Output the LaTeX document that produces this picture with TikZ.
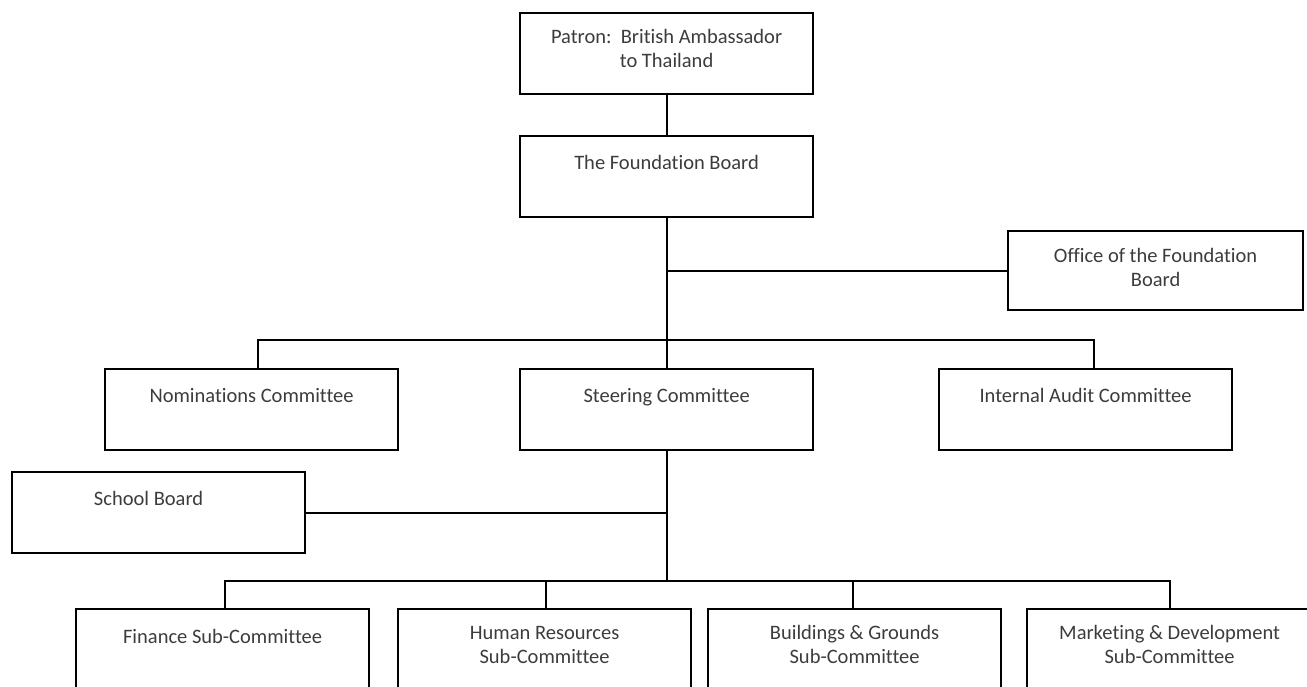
\documentclass[tikz,border=0pt]{standalone}
\usepackage{fontspec}
\setmainfont{Carlito}[Ligatures={NoCommon,NoContextual},RawFeature={-liga;-clig;-dlig}]
\definecolor{textgray}{RGB}{60,60,60}
\begin{document}
\begin{tikzpicture}[x=1pt,y=-1pt,
  box/.style={draw=black,line width=2.2pt,minimum width=293pt,minimum height=81pt,inner sep=0pt,anchor=north west},
  lbl/.style={anchor=north,inner sep=0pt,align=center,text=textgray,font=\fontsize{20.5}{24}\selectfont},
  conn/.style={draw=black,line width=2pt}]
\useasboundingbox (0,0) rectangle (1307,686);
\clip (0,0) rectangle (1307,686);
% boxes
\node[box] (patron) at (519,12) {};
\node[box] (found) at (519,135) {};
\node[box,minimum width=295pt,minimum height=79pt] (office) at (1007,230) {};
\node[box] (nom) at (104,368) {};
\node[box] (steer) at (519,368) {};
\node[box] (audit) at (938,368) {};
\node[box] (school) at (11,471) {};
\node[box,minimum height=90pt] (fin) at (75,608) {};
\node[box,minimum height=90pt] (hr) at (397,608) {};
\node[box,minimum height=90pt] (bg) at (707,608) {};
\node[box,minimum height=90pt] (mkt) at (1026,608) {};
% labels
\node[lbl] (tpatron) at ([yshift=-14]patron.north) {\strut Patron:\ \ British Ambassador\\\strut to Thailand};
\node[lbl] (tfound) at ([yshift=-17]found.north) {\strut The Foundation Board};
\node[lbl] (toffice) at ([yshift=-15]office.north) {\strut Office of the Foundation\\\strut Board};
\node[lbl] (tnom) at ([yshift=-17]nom.north) {\strut Nominations Committee};
\node[lbl] (tsteer) at ([yshift=-17]steer.north) {\strut Steering Committee};
\node[lbl] (taudit) at ([yshift=-17]audit.north) {\strut Internal Audit Committee};
\node[lbl] (tschool) at ([xshift=-10,yshift=-17]school.north) {\strut School Board};
\node[lbl] (tfin) at ([yshift=-18]fin.north) {\strut Finance Sub-Committee};
\node[lbl] (thr) at ([yshift=-14]hr.north) {\strut Human Resources\\\strut Sub-Committee};
\node[lbl] (tbg) at ([yshift=-14]bg.north) {\strut Buildings \& Grounds\\\strut Sub-Committee};
\node[lbl] (tmkt) at ([xshift=-4,yshift=-14]mkt.north) {\strut Marketing \& Development\\\strut Sub-Committee};
% connectors
\coordinate (bus1) at (found.south |- 0,340);
\coordinate (bus2) at (steer.south |- 0,581);
\draw[conn] (patron.south) -- (found.north);
\draw[conn] (found.south) -- (steer.north);
\draw[conn] (office.west) -- (office.west -| found.south);
\draw[conn] ([xshift=6]nom.north) |- (bus1);
\draw[conn] ([xshift=8]audit.north) |- (bus1);
\draw[conn] (steer.south) -- (bus2);
\draw[conn] (school.east) -- (school.east -| steer.south);
\draw[conn] ([xshift=2]fin.north) |- (bus2);
\draw[conn] ([xshift=1]hr.north) |- (bus2);
\draw[conn] ([xshift=-2]bg.north) |- (bus2);
\draw[conn] ([xshift=-4]mkt.north) |- (bus2);
\end{tikzpicture}
\end{document}
